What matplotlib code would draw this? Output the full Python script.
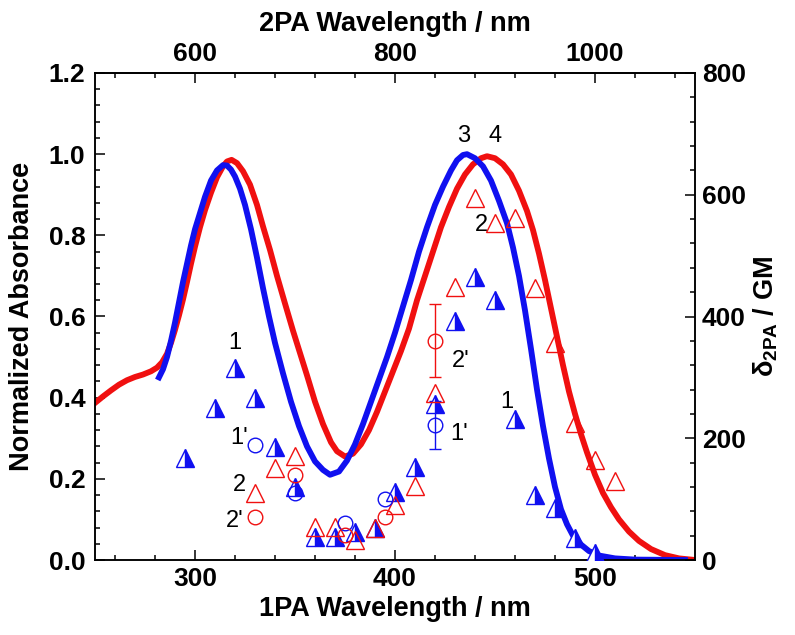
import numpy as np
import matplotlib
matplotlib.use("Agg")
import matplotlib.pyplot as plt
from matplotlib.ticker import MultipleLocator, FixedLocator

plt.rcParams['font.family'] = ['Liberation Sans', 'DejaVu Sans']
plt.rcParams['mathtext.fontset'] = 'custom'
plt.rcParams['mathtext.rm'] = 'Liberation Sans'
plt.rcParams['mathtext.bf'] = 'Liberation Sans:bold'

# 1PA absorbance, compound 3 (blue) and 4 (red)
wl3 = [282, 284, 286, 288, 290, 292, 294, 296, 298, 300, 302.5, 305, 308, 311, 314,
       316, 318, 320, 322.5, 325, 328, 331, 334, 337, 340, 344, 348, 352, 356, 360,
       364, 367.5, 372, 376, 380, 384, 388, 392, 396, 400, 404, 408, 412, 416, 420,
       424, 428, 431, 434, 436, 440, 444, 448, 452, 456, 459, 462, 465, 468, 471,
       474, 477, 480, 483, 486, 489, 493, 497, 502, 510, 520, 545]
abs3 = [0.45, 0.47, 0.50, 0.54, 0.585, 0.635, 0.685, 0.73, 0.775, 0.815, 0.855,
        0.895, 0.935, 0.96, 0.973, 0.972, 0.962, 0.945, 0.915, 0.875, 0.815, 0.745,
        0.67, 0.60, 0.535, 0.46, 0.39, 0.33, 0.28, 0.243, 0.222, 0.21, 0.218, 0.245,
        0.285, 0.335, 0.39, 0.445, 0.50, 0.56, 0.625, 0.69, 0.76, 0.82, 0.875, 0.92,
        0.96, 0.985, 0.998, 1.0, 0.99, 0.97, 0.935, 0.885, 0.83, 0.77, 0.70, 0.615,
        0.52, 0.42, 0.33, 0.25, 0.18, 0.125, 0.088, 0.06, 0.038, 0.022, 0.011, 0.004,
        0.001, 0.0]

wl4 = [250, 254, 258, 262, 266, 270, 274, 278, 281, 283.5, 286, 288, 290, 292, 294,
       296, 298, 300, 302.5, 305, 308, 311, 314, 316, 318.3, 321, 324, 327.5, 331,
       334, 337.5, 341, 345, 349, 352.5, 356, 360, 364, 368, 371, 375, 379, 383, 387,
       391, 395, 399, 403, 407, 411, 415, 419, 423, 427, 431, 435, 439, 443, 446,
       450, 454, 458, 462, 466, 469, 472, 475, 478, 481, 484, 487, 490, 493, 496,
       500, 504, 508, 512, 517, 522, 528, 535, 542, 550]
abs4 = [0.387, 0.403, 0.418, 0.432, 0.443, 0.451, 0.457, 0.465, 0.474, 0.487, 0.508,
        0.535, 0.567, 0.603, 0.642, 0.685, 0.73, 0.772, 0.82, 0.862, 0.905, 0.943,
        0.97, 0.982, 0.986, 0.978, 0.958, 0.925, 0.875, 0.822, 0.764, 0.70, 0.632,
        0.565, 0.51, 0.455, 0.39, 0.335, 0.29, 0.268, 0.255, 0.262, 0.285, 0.32,
        0.365, 0.415, 0.465, 0.515, 0.57, 0.64, 0.70, 0.76, 0.82, 0.87, 0.915, 0.95,
        0.975, 0.99, 0.995, 0.99, 0.975, 0.95, 0.91, 0.86, 0.813, 0.755, 0.69, 0.62,
        0.55, 0.48, 0.415, 0.36, 0.31, 0.265, 0.21, 0.165, 0.13, 0.10, 0.07, 0.047,
        0.027, 0.012, 0.004, 0.0]

# 2PA cross sections (GM) vs 1PA-equivalent wavelength
wl_1 = [295, 310, 320, 330, 340, 350, 360, 370, 380, 390, 400, 410, 420, 430, 440,
        450, 460, 470, 480, 490, 500]
gm_1 = [167, 250, 315, 266, 186, 120, 37, 38, 46, 52, 112, 153, 257, 393, 465,
        427, 231, 107, 85, 36, 11]

wl_2 = [330, 340, 350, 360, 370, 380, 390, 400, 410, 420, 430, 440, 450, 460, 470,
        480, 490, 500, 510]
gm_2 = [110, 151, 171, 55, 55, 33, 52, 90, 122, 274, 449, 594, 553, 561, 446, 356,
        225, 164, 129]

wl_1p = [330, 350, 375, 395, 420]
gm_1p = [189, 110, 60, 101, 222]
wl_2p = [330, 350, 375, 395, 420]
gm_2p = [70, 140, 41, 71, 360]

# error bars only on the 420 nm points
err_wl = [420, 420]
err_gm = [222, 360]
err_size = [40, 60]

blue = '#1010f0'
red = '#f01010'

fig = plt.figure(figsize=(7.95, 6.35), dpi=100)
ax = fig.add_axes([95 / 795, 75 / 635, 600 / 795, 487 / 635])
ax2 = ax.twinx()

ax.plot(wl4, abs4, color=red, lw=4.2, solid_joinstyle='round', zorder=2)
ax.plot(wl3, abs3, color=blue, lw=4.2, solid_joinstyle='round', zorder=2)

ax2.errorbar(err_wl[:1], err_gm[:1], yerr=err_size[:1], fmt='none', ecolor=blue,
             elinewidth=1, capsize=4, capthick=1, zorder=3)
ax2.errorbar(err_wl[1:], err_gm[1:], yerr=err_size[1:], fmt='none', ecolor=red,
             elinewidth=1, capsize=4, capthick=1, zorder=3)
ax2.plot(wl_1, gm_1, ls='none', marker='^', ms=13, mew=1, mec=blue, mfc=blue,
         mfcalt='white', fillstyle='right', zorder=4)
ax2.plot(wl_2, gm_2, ls='none', marker='^', ms=13, mew=1, mec=red, mfc='none', zorder=4)
ax2.plot(wl_1p, gm_1p, ls='none', marker='o', ms=10.5, mew=1, mec=blue, mfc='none', zorder=4)
ax2.plot(wl_2p, gm_2p, ls='none', marker='o', ms=10.5, mew=1, mec=red, mfc='none', zorder=4)

ax.set_xlim(250, 550)
ax.set_ylim(0, 1.2)
ax2.set_ylim(0, 800)

bold = dict(fontsize=19.5, fontweight='bold')
ax.set_xlabel('1PA Wavelength / nm', labelpad=4, **bold)
ax.set_ylabel('Normalized Absorbance', labelpad=10, **bold)
ax2.set_ylabel('δ$_{\\mathbf{2PA}}$ / GM', labelpad=4, **bold)

top = ax.secondary_xaxis('top', functions=(lambda x: 2 * x, lambda x: x / 2))
top.set_xlabel('2PA Wavelength / nm', labelpad=8, **bold)
top.xaxis.set_major_locator(FixedLocator([600, 800, 1000]))
top.xaxis.set_minor_locator(FixedLocator([520, 560, 640, 680, 720, 760, 840, 880,
                                          920, 960, 1040, 1080]))

ax.xaxis.set_major_locator(MultipleLocator(100))
ax.xaxis.set_minor_locator(MultipleLocator(20))
ax.yaxis.set_major_locator(MultipleLocator(0.2))
ax.yaxis.set_minor_locator(MultipleLocator(0.04))
ax.yaxis.set_major_formatter(lambda v, p: f'{v:.1f}')
ax2.yaxis.set_major_locator(MultipleLocator(200))
ax2.yaxis.set_minor_locator(MultipleLocator(40))

for a in (ax, ax2, top):
    a.tick_params(which='major', direction='in', length=7, width=1.1, labelsize=19, pad=5)
    a.tick_params(which='minor', direction='in', length=3.5, width=1.1)
    for lab in a.get_xticklabels() + a.get_yticklabels():
        lab.set_fontweight('bold')
ax.tick_params(axis='x', which='both', top=False)
ax.tick_params(axis='y', which='major', pad=7)
for s in ax.spines.values():
    s.set_linewidth(1.1)
for s in ax2.spines.values():
    s.set_linewidth(1.1)
top.spines['top'].set_linewidth(1.1)

# curve / point labels (data coords of the absorbance axis)
labels = [('1', 320, 0.535), ("1'", 322, 0.30), ('2', 322, 0.185), ("2'", 320, 0.095),
          ("2'", 433, 0.49), ("1'", 432, 0.31), ('2', 443, 0.825), ('1', 456, 0.39),
          ('3', 434.5, 1.045), ('4', 450, 1.045)]
for t, x, y in labels:
    ax.text(x, y, t, fontsize=17, ha='center', va='center', zorder=5)

fig.savefig('out.png', dpi=100)
